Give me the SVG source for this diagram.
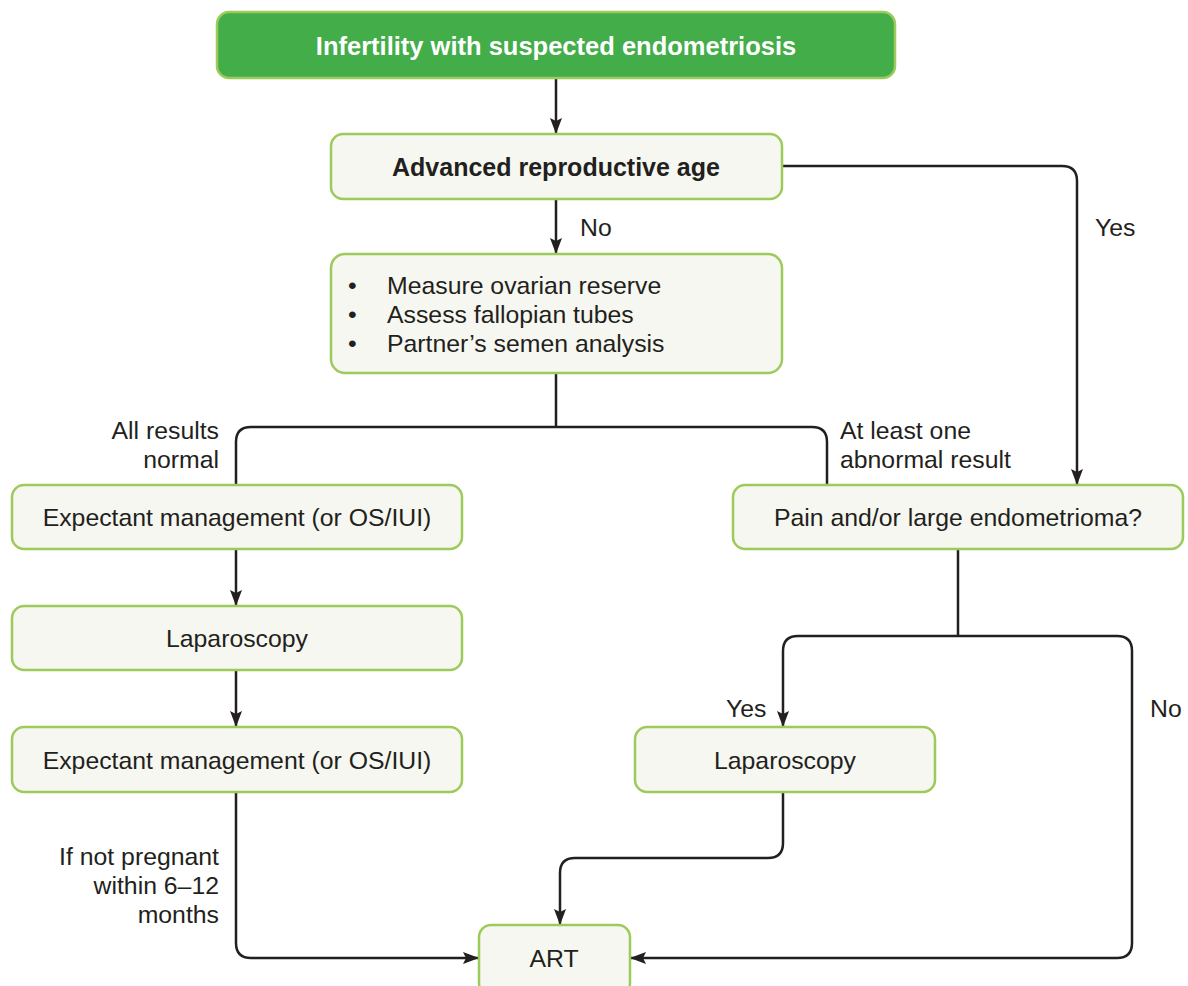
<svg xmlns="http://www.w3.org/2000/svg" width="1188" height="986" viewBox="0 0 1188 986">
<style>
.box{fill:#f6f7f0;stroke:#9dcb5b;stroke-width:2.5}
.top{fill:#42ad49;stroke:#9dcb5b;stroke-width:2.5}
.t{font-family:"Liberation Sans",Arial,sans-serif;font-size:24.8px;fill:#231f20}
.c{text-anchor:middle}
.r{text-anchor:end}
.b{font-weight:bold;font-size:25px}
.tt{font-size:25.5px}
.w{fill:#ffffff}
.ln{fill:none;stroke:#231f20;stroke-width:2.5}
</style>
<defs>
<marker id="ah" markerWidth="16" markerHeight="14" refX="15" refY="7" orient="auto" markerUnits="userSpaceOnUse" viewBox="0 0 16 14">
<path d="M0,1 L16,7 L0,13 L3,7 Z" fill="#231f20"/>
</marker>
</defs>
<rect width="1188" height="986" fill="#ffffff"/>
<g id="connectors">
<path class="ln" d="M556,78 V133" marker-end="url(#ah)"/>
<path class="ln" d="M556,199 V253" marker-end="url(#ah)"/>
<path class="ln" d="M782,166 H1062 Q1077,166 1077,181 V484" marker-end="url(#ah)"/>
<path class="ln" d="M556,373 V427"/>
<path class="ln" d="M556,427 H251 Q236,427 236,442 V485"/>
<path class="ln" d="M556,427 H812 Q827,427 827,442 V485"/>
<path class="ln" d="M236,549 V605" marker-end="url(#ah)"/>
<path class="ln" d="M236,670 V726" marker-end="url(#ah)"/>
<path class="ln" d="M958,549 V636"/>
<path class="ln" d="M958,636 H798 Q783,636 783,651 V726" marker-end="url(#ah)"/>
<path class="ln" d="M958,636 H1117 Q1132,636 1132,651 V943 Q1132,958 1117,958 H631" marker-end="url(#ah)"/>
<path class="ln" d="M783,792 V843 Q783,858 768,858 H575 Q560,858 560,873 V924" marker-end="url(#ah)"/>
<path class="ln" d="M236,792 V943 Q236,958 251,958 H478" marker-end="url(#ah)"/>
</g>
<g id="n-top">
<rect class="top" x="217" y="12" width="678" height="66" rx="12"/>
<text class="t c b tt w" x="556" y="55">Infertility with suspected endometriosis</text>
</g>
<g id="n-age">
<rect class="box" x="331" y="134" width="451" height="65" rx="12"/>
<text class="t c b" x="556" y="176">Advanced reproductive age</text>
</g>
<g id="n-tests">
<rect class="box" x="331" y="254" width="451" height="119" rx="14"/>
<text class="t" x="348" y="294">•</text>
<text class="t" x="387" y="294">Measure ovarian reserve</text>
<text class="t" x="348" y="323">•</text>
<text class="t" x="387" y="323">Assess fallopian tubes</text>
<text class="t" x="348" y="352">•</text>
<text class="t" x="387" y="352">Partner’s semen analysis</text>
</g>
<g id="n-exp1">
<rect class="box" x="12" y="485" width="450" height="64" rx="12"/>
<text class="t c" x="237" y="526">Expectant management (or OS/IUI)</text>
</g>
<g id="n-lap1">
<rect class="box" x="12" y="606" width="450" height="64" rx="12"/>
<text class="t c" x="237" y="647">Laparoscopy</text>
</g>
<g id="n-exp2">
<rect class="box" x="12" y="727" width="450" height="65" rx="12"/>
<text class="t c" x="237" y="769">Expectant management (or OS/IUI)</text>
</g>
<g id="n-pain">
<rect class="box" x="733" y="485" width="450" height="64" rx="12"/>
<text class="t c" x="958" y="526">Pain and/or large endometrioma?</text>
</g>
<g id="n-lap2">
<rect class="box" x="635" y="727" width="300" height="65" rx="12"/>
<text class="t c" x="785" y="769">Laparoscopy</text>
</g>
<g id="n-art">
<rect class="box" x="479" y="925" width="151" height="70" rx="12"/>
<text class="t c" x="554" y="967">ART</text>
</g>
<g id="labels">
<text class="t" x="580" y="236">No</text>
<text class="t" x="1095" y="236">Yes</text>
<text class="t r" x="219" y="439">All results</text>
<text class="t r" x="219" y="468">normal</text>
<text class="t" x="840" y="439">At least one</text>
<text class="t" x="840" y="468">abnormal result</text>
<text class="t" x="726" y="717">Yes</text>
<text class="t" x="1150" y="717">No</text>
<text class="t r" x="219" y="865">If not pregnant</text>
<text class="t r" x="219" y="894">within 6–12</text>
<text class="t r" x="219" y="923">months</text>
</g>
</svg>
